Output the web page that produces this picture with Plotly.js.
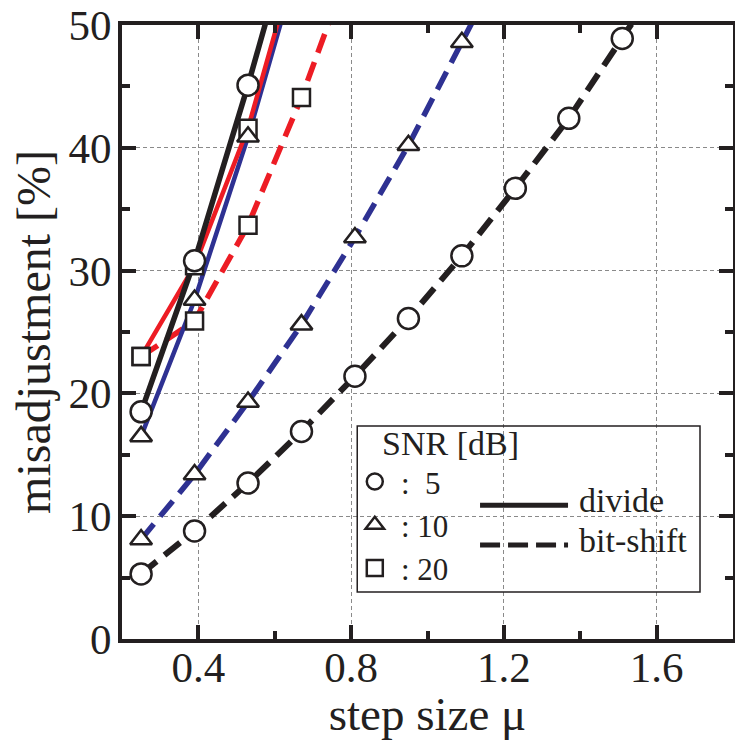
<!DOCTYPE html>
<html>
<head>
<meta charset="utf-8">
<script src="https://cdn.plot.ly/plotly-3.0.1.min.js"></script>
<style>html,body{margin:0;padding:0;background:#fff;}#chart{width:735px;height:740px;}</style>
</head>
<body>
<div id="chart"></div>
<script>
// ---- data ----
const muBitShift5  = [0.25, 0.39, 0.53, 0.67, 0.81, 0.95, 1.09, 1.23, 1.37, 1.51, 1.65];
const misBitShift5 = [5.3, 8.8, 12.7, 16.9, 21.4, 26.1, 31.2, 36.7, 42.4, 48.9, 55.5];

const muBitShift10  = [0.25, 0.39, 0.53, 0.67, 0.81, 0.95, 1.09, 1.23];
const misBitShift10 = [8.1, 13.4, 19.3, 25.6, 32.7, 40.2, 48.6, 57.0];

const muBitShift20  = [0.25, 0.39, 0.53, 0.67, 0.81];
const misBitShift20 = [23.0, 25.9, 33.7, 44.1, 56.0];

const muDivide5  = [0.25, 0.39, 0.53, 0.67];
const misDivide5 = [18.5, 30.8, 45.1, 60.5];

const muDivide10  = [0.25, 0.39, 0.53, 0.67];
const misDivide10 = [16.5, 27.6, 40.9, 56.0];

const muDivide20  = [0.25, 0.39, 0.53, 0.67];
const misDivide20 = [23.0, 30.4, 41.6, 57.0];

const snrLabels = ['\u2009:\u00a0\u00a05', '\u2009:\u00a010', '\u2009:\u00a020'];
const methodLabels = ['divide', 'bit-shift'];
const legendTitle = 'SNR [dB]';
const xTitle = 'step size \u03bc';
const yTitle = 'misadjustment [%]';

// ---- styles ----
const FONT = 'Liberation Serif, Times New Roman, serif';
const INK = '#231f20';
const RED = '#ed1c24';
const BLUE = '#2e3192';
const DASH = '20px,10px';

function lineTrace(x, y, color, width, dash) {
  return {x: x, y: y, mode: 'lines', type: 'scatter', showlegend: false, hoverinfo: 'skip',
          line: {color: color, width: width, dash: dash}};
}
function markerTrace(x, y, symbol, size, name, show, rank) {
  return {x: x, y: y, mode: 'markers', type: 'scatter', name: name, showlegend: show,
          legendrank: rank,
          marker: {symbol: symbol, size: size, color: '#ffffff', line: {color: INK, width: 2.5}}};
}

const traces = [
  lineTrace(muBitShift10, misBitShift10, BLUE, 5.5, DASH),
  lineTrace(muBitShift5, misBitShift5, INK, 6, DASH),
  lineTrace(muBitShift20, misBitShift20, RED, 5.5, DASH),
  lineTrace(muDivide10, misDivide10, BLUE, 4.5, 'solid'),
  lineTrace(muDivide20, misDivide20, RED, 4.5, 'solid'),
  lineTrace(muDivide5, misDivide5, INK, 5.5, 'solid'),
  markerTrace(muDivide20, misDivide20, 'square', 17, snrLabels[2], false, 3),
  markerTrace(muBitShift20, misBitShift20, 'square', 17, snrLabels[2], true, 3),
  markerTrace(muDivide10, misDivide10, 'triangle-up', 19, snrLabels[1], false, 2),
  markerTrace(muBitShift10, misBitShift10, 'triangle-up', 19, snrLabels[1], true, 2),
  markerTrace(muDivide5, misDivide5, 'circle', 21, snrLabels[0], false, 1),
  markerTrace(muBitShift5, misBitShift5, 'circle', 21, snrLabels[0], true, 1)
];

const axisCommon = {
  showline: true, linecolor: INK, linewidth: 4, mirror: 'ticks',
  ticks: 'inside', ticklen: 14, tickwidth: 4, tickcolor: INK,
  showgrid: true, gridcolor: '#8a8a8a', gridwidth: 1, griddash: '4px,3px',
  zeroline: false,
  tickfont: {family: FONT, size: 43, color: INK}
};

const layout = {
  width: 735, height: 740,
  margin: {l: 122, r: 2, t: 25, b: 101},
  paper_bgcolor: '#ffffff', plot_bgcolor: '#ffffff',
  font: {family: FONT, color: INK},
  xaxis: Object.assign({}, axisCommon, {
    range: [0.2, 1.8], tick0: 0.4, dtick: 0.4, ticklabelstandoff: -13,
    minor: {dtick: 0.2, tick0: 0.4, ticks: 'inside', ticklen: 8, tickwidth: 4, tickcolor: INK, showgrid: false},
    title: {text: xTitle, font: {family: FONT, size: 47, color: INK}, standoff: 0}
  }),
  yaxis: Object.assign({}, axisCommon, {
    range: [0, 50], tick0: 0, dtick: 10, ticklabelstandoff: -2,
    minor: {dtick: 5, tick0: 0, ticks: 'inside', ticklen: 8, tickwidth: 4, tickcolor: INK, showgrid: false},
    title: {text: yTitle, font: {family: FONT, size: 48, color: INK}, standoff: 4}
  }),
  showlegend: true,
  legend: {
    x: 0.381, y: 0.30, xanchor: 'left', yanchor: 'top',
    bgcolor: 'rgba(0,0,0,0)', borderwidth: 0,
    font: {family: FONT, size: 31, color: INK},
    traceorder: 'normal', itemsizing: 'trace', tracegroupgap: 0
  },
  shapes: [
    {type: 'rect', xref: 'paper', yref: 'paper', x0: 0.385, x1: 0.946, y0: 0.0765, y1: 0.347,
     line: {color: INK, width: 1.5}, fillcolor: 'rgba(0,0,0,0)', layer: 'above'},
    {type: 'line', xref: 'paper', yref: 'paper', x0: 0.586, x1: 0.730, y0: 0.218, y1: 0.218,
     line: {color: INK, width: 5}},
    {type: 'line', xref: 'paper', yref: 'paper', x0: 0.586, x1: 0.730, y0: 0.153, y1: 0.153,
     line: {color: INK, width: 5, dash: '20px,8px'}}
  ],
  annotations: [
    {xref: 'paper', yref: 'paper', x: 0.422, y: 0.318, xanchor: 'left', yanchor: 'middle',
     text: legendTitle, showarrow: false, font: {family: FONT, size: 34, color: INK}},
    {xref: 'paper', yref: 'paper', x: 0.745, y: 0.225, xanchor: 'left', yanchor: 'middle',
     text: methodLabels[0], showarrow: false, font: {family: FONT, size: 34, color: INK}},
    {xref: 'paper', yref: 'paper', x: 0.745, y: 0.160, xanchor: 'left', yanchor: 'middle',
     text: methodLabels[1], showarrow: false, font: {family: FONT, size: 34, color: INK}}
  ]
};

Plotly.newPlot('chart', traces, layout, {staticPlot: true, displayModeBar: false});
</script>
</body>
</html>
